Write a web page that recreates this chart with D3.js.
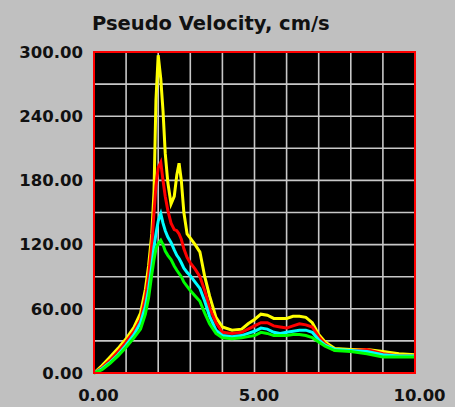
<!doctype html>
<html lang='en'>
<head>
    <meta charset='UTF-8'>
    <title>Pseudo Velocity</title>
    <style>
        body {
            margin: 0;
            background: #c0c0c0;
        }

        text {
            font-family: 'DejaVu Sans', sans-serif;
            font-weight: bold;
            fill: #111;
        }

        .tick text {
            font-size: 16.5px;
        }

        .domain {
            display: none;
        }
    </style>
</head>
<body>

<script src='https://d3js.org/d3.v7.min.js'></script>
<script>
  // periods (s)
  const periods = [0, 0.25, 0.5, 0.75, 1.0, 1.25, 1.45, 1.6, 1.7, 1.8, 1.87, 1.93, 2.0, 2.08, 2.15, 2.22,
    2.3, 2.4, 2.5, 2.58, 2.65, 2.72, 2.8, 2.9, 3.0, 3.15, 3.3, 3.45, 3.6, 3.8, 4.0, 4.3, 4.6, 4.8,
    5.0, 5.2, 5.4, 5.6, 5.8, 6.0, 6.2, 6.4, 6.6, 6.8, 7.0, 7.2, 7.5, 8.0, 8.5, 9.0, 9.5, 10.0]

  const yellowVals = [0, 7, 15, 23, 32, 43, 56, 78, 100, 130, 170, 255, 297, 275, 245, 205,
    178, 158, 165, 185, 196, 180, 150, 130, 126, 120, 113, 90, 72, 52, 43, 40, 41, 46,
    50, 55, 54, 51, 51, 51, 53, 53, 52, 47, 36, 29, 23, 22, 22, 20, 18, 17]

  const redVals = [0, 5, 12, 20, 29, 39, 50, 70, 90, 120, 150, 175, 192, 197, 180, 165,
    152, 140, 134, 133, 130, 125, 116, 108, 103, 97, 90, 77, 61, 47, 38, 37, 38, 41,
    44, 47, 47, 44, 43, 42, 44, 46, 45, 43, 34, 27, 21, 21, 22, 18, 16, 16]

  const cyanVals = [0, 4, 10, 17, 26, 36, 47, 62, 78, 100, 118, 130, 142, 149, 140, 133,
    127, 122, 115, 110, 107, 103, 98, 94, 91, 85, 79, 67, 53, 40, 35, 34, 35, 37,
    39, 42, 41, 38, 37, 38, 39, 40, 40, 38, 31, 26, 22, 21, 20, 17, 16, 16]

  const greenVals = [0, 3, 9, 16, 24, 33, 41, 55, 70, 92, 106, 116, 121, 124, 120, 114,
    110, 106, 100, 96, 93, 90, 85, 81, 77, 72, 67, 56, 46, 37, 33, 32, 33, 34,
    35, 38, 37, 35, 35, 35, 36, 36, 35, 33, 29, 25, 21, 20, 18, 15, 15, 15]

  const xTicks = [0, 5, 10]
  const yTicks = [0, 60, 120, 180, 240, 300]

  const seriesList = [
    { values: yellowVals, color: '#ffff00' },
    { values: redVals, color: '#ff0000' },
    { values: cyanVals, color: '#00ffff' },
    { values: greenVals, color: '#00ff00' }
  ]

  const W = 455, H = 407
  const margin = {top: 52, right: 40, bottom: 34, left: 94},
    w = W - margin.left - margin.right,
    h = H - margin.top - margin.bottom

  const xScale = d3.scaleLinear().domain([0, 10]).range([0, w])
  const yScale = d3.scaleLinear().domain([0, 300]).range([h, 0])

  const root = d3.select('body').append('svg')
    .attr('width', W)
    .attr('height', H)

  root.append('text')
    .attr('x', 92)
    .attr('y', 30)
    .style('font-size', '19.5px')
    .text('Pseudo Velocity, cm/s')

  const svg = root.append('g')
    .attr('transform', `translate(${margin.left}, ${margin.top})`)

  svg.append('rect')
    .attr('width', w)
    .attr('height', h)
    .attr('fill', '#000')

  //// Grid ////
  const grid = svg.append('g').attr('class', 'grid')

  grid.selectAll('line.v')
    .data(d3.range(1, 10))
    .enter()
    .append('line')
    .attr('x1', d => xScale(d))
    .attr('x2', d => xScale(d))
    .attr('y1', 0)
    .attr('y2', h)
    .attr('stroke', '#c8c8c8')
    .attr('stroke-width', 1.6)

  grid.selectAll('line.h')
    .data(d3.range(30, 300, 30))
    .enter()
    .append('line')
    .attr('x1', 0)
    .attr('x2', w)
    .attr('y1', d => yScale(d))
    .attr('y2', d => yScale(d))
    .attr('stroke', '#c8c8c8')
    .attr('stroke-width', 1.6)

  //// Lines ////
  const line = d3.line()
    .x((d, i) => xScale(periods[i]))
    .y(d => yScale(d))

  svg.selectAll('path.series')
    .data(seriesList)
    .enter()
    .append('path')
    .attr('class', 'series')
    .attr('d', d => line(d.values))
    .attr('fill', 'none')
    .attr('stroke', d => d.color)
    .attr('stroke-width', 3)
    .attr('stroke-linejoin', 'miter')

  svg.append('rect')
    .attr('width', w)
    .attr('height', h)
    .attr('fill', 'none')
    .attr('stroke', '#ff0000')
    .attr('stroke-width', 2)

  //// Axis ////
  svg.append('g')
    .attr('transform', 'translate(0,' + h + ')')
    .call(d3.axisBottom(xScale)
      .tickValues(xTicks)
      .tickFormat(d3.format('.2f'))
      .tickPadding(16)
      .tickSizeInner(0)
      .tickSizeOuter(0))
    .selectAll('text')
    .attr('dx', 4)

  svg.append('g')
    .call(d3.axisLeft(yScale)
      .tickValues(yTicks)
      .tickFormat(d3.format('.2f'))
      .tickPadding(11)
      .tickSizeInner(0)
      .tickSizeOuter(0))
</script>
</body>
</html>
